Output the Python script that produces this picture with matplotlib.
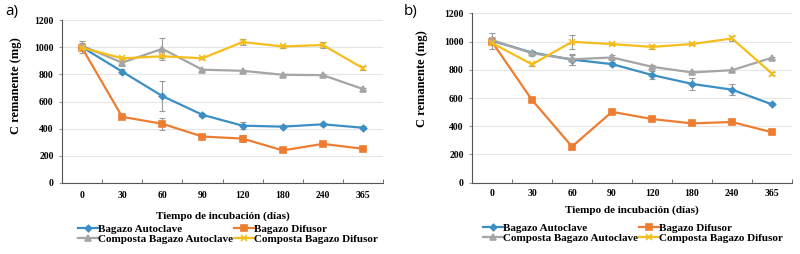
import numpy as np
import matplotlib
matplotlib.use("Agg")
import matplotlib.pyplot as plt

# tiempo de incubacion (dias)
dias = ["0", "30", "60", "90", "120", "180", "240", "365"]

# panel a)
a_bag_auto = [1000, 820, 640, 502, 422, 415, 432, 407]
a_bag_auto_err = [45, 20, 108, 15, 25, 10, 10, 10]
a_bag_dif = [995, 487, 436, 342, 327, 240, 288, 252]
a_bag_dif_err = [10, 10, 45, 15, 25, 10, 10, 10]
a_comp_auto = [1010, 886, 988, 834, 826, 797, 794, 692]
a_comp_auto_err = [20, 25, 80, 8, 8, 8, 8, 10]
a_comp_dif = [995, 918, 933, 918, 1038, 1005, 1016, 845]
a_comp_dif_err = [10, 8, 10, 8, 20, 8, 20, 15]

# panel b)
b_bag_auto = [1005, 922, 872, 840, 763, 700, 659, 555]
b_bag_auto_err = [55, 10, 35, 15, 25, 40, 38, 8]
b_bag_dif = [998, 586, 256, 502, 451, 420, 430, 357]
b_bag_dif_err = [10, 8, 8, 8, 8, 8, 8, 10]
b_comp_auto = [1010, 917, 874, 887, 821, 781, 797, 885]
b_comp_auto_err = [25, 15, 40, 20, 10, 10, 8, 8]
b_comp_dif = [990, 838, 998, 982, 962, 982, 1022, 773]
b_comp_dif_err = [10, 8, 50, 8, 15, 8, 15, 8]

series_names = ["Bagazo Autoclave", "Bagazo Difusor",
                "Composta Bagazo Autoclave", "Composta Bagazo Difusor"]
colors = ["#3B8FC4", "#ED7D31", "#A5A5A5", "#F5BE1A"]
markers = ["D", "s", "^", "x"]
msizes = [3.2, 4, 4, 4.5]

serif = "Liberation Serif"


def draw_panel(ax, data, errs, tickpad, xlabpad, ylab_xy, legend_anchor):
    x = np.arange(len(dias))
    handles = []
    for vals, err, name, c, m, ms in zip(data, errs, series_names, colors, markers, msizes):
        ax.errorbar(x, vals, yerr=err, fmt="none", ecolor="#9a9a9a",
                    elinewidth=0.8, capsize=2, capthick=0.8, zorder=2)
        h, = ax.plot(x, vals, color=c, lw=1.6, marker=m, ms=ms,
                     mew=1.2, label=name, zorder=3)
        handles.append(h)

    ax.set_xlim(-0.5, len(dias) - 0.5)
    ax.set_ylim(0, 1200)
    ax.set_yticks(range(0, 1201, 200))
    ax.set_xticks(x)
    ax.set_xticklabels(dias)
    ax.set_xticks(np.arange(0.5, len(dias) - 0.4, 1), minor=True)
    ax.tick_params(axis="x", which="major", length=0, pad=tickpad)
    ax.tick_params(axis="x", which="minor", length=3, direction="in", color="#555555")
    ax.tick_params(axis="y", length=2, color="#999999", pad=4)
    for lab in ax.get_xticklabels() + ax.get_yticklabels():
        lab.set_fontfamily(serif)
        lab.set_fontweight("bold")
        lab.set_fontsize(7)
    ax.grid(axis="y", color="#e6e6e6", lw=0.8)
    ax.set_axisbelow(True)
    for s in ["top", "right"]:
        ax.spines[s].set_visible(False)
    ax.spines["left"].set_color("#555555")
    ax.spines["bottom"].set_color("#555555")

    ax.set_ylabel("C remanente (mg)", family=serif, weight="bold", fontsize=9)
    ax.yaxis.set_label_coords(*ylab_xy)
    ax.set_xlabel("Tiempo de incubación (días)", family=serif, weight="bold",
                  fontsize=8, labelpad=xlabpad)

    order = [handles[0], handles[2], handles[1], handles[3]]
    ax.legend(order, [h.get_label() for h in order], ncol=2, frameon=False,
              loc="upper left", bbox_to_anchor=legend_anchor,
              bbox_transform=ax.figure.transFigure,
              prop={"family": serif, "weight": "bold", "size": 8},
              handlelength=1.8, handletextpad=0.0, columnspacing=0.1,
              labelspacing=0.0, borderpad=0, borderaxespad=0)
    return ax


fig = plt.figure(figsize=(8, 2.54), dpi=100)
ax_a = fig.add_axes([62 / 800, 1 - 183 / 254, 321 / 800, 163 / 254])
ax_b = fig.add_axes([472 / 800, 1 - 182.7 / 254, 320 / 800, 169.4 / 254])

draw_panel(ax_a, [a_bag_auto, a_bag_dif, a_comp_auto, a_comp_dif],
           [a_bag_auto_err, a_bag_dif_err, a_comp_auto_err, a_comp_dif_err],
           6, 8, (-0.125, 0.595), (78 / 800, 1 - 224 / 254))
draw_panel(ax_b, [b_bag_auto, b_bag_dif, b_comp_auto, b_comp_dif],
           [b_bag_auto_err, b_bag_dif_err, b_comp_auto_err, b_comp_dif_err],
           4.5, 5.5, (-0.1375, 0.612), (483 / 800, 1 - 223 / 254))

fig.text(5 / 800, 1 - 4 / 254, "a)", family="Open Sans", fontsize=11, va="top", ha="left")
fig.text(404 / 800, 1 - 4 / 254, "b)", family="Open Sans", fontsize=11, va="top", ha="left")

fig.savefig("out.png", dpi=100)
